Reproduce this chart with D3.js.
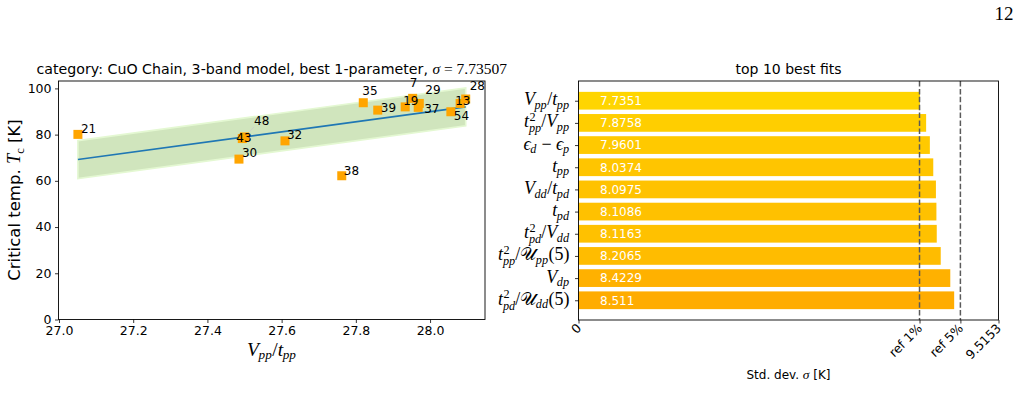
<!DOCTYPE html>
<html><head><meta charset="utf-8">
<script src="https://cdn.jsdelivr.net/npm/d3@7"></script>
<style>body{margin:0;background:#fff} svg{display:block} text{white-space:pre}</style>
</head><body>
<svg id="c" width="1020" height="419"></svg>
<script>
// ---------- scatter data ----------
const pointIds = ["21","43","48","30","32","38","35","39","19","7","29","37","54","13","28"];
const pointX   = [27.051,27.494,27.500,27.485,27.609,27.762,27.820,27.859,27.933,27.953,27.971,27.968,28.056,28.081,28.096];
const pointTc  = [80.1,78.3,79.0,69.4,77.3,62.2,93.8,90.6,92.0,95.7,93.5,91.8,89.9,93.5,95.4];
const fitX  = [27.051, 28.096];
const fitTc = [69.2, 92.0];
const bandHalfWidth = 8.2;
const scatterXTicks = [27.0,27.2,27.4,27.6,27.8,28.0];
const scatterYTicks = [0,20,40,60,80,100];
const scatterTitle = "category: CuO Chain, 3-band model, best 1-parameter, ";
const scatterSigma = "σ = 7.73507";

// ---------- bar data ----------
const fitLabels = ["V_{pp}/t_{pp}","t_{pp}^{2}/V_{pp}","ϵ_{d} − ϵ_{p}","t_{pp}","V_{dd}/t_{pd}","t_{pd}","t_{pd}^{2}/V_{dd}","t_{pp}^{2}/𝒰_{pp}(5)","V_{dp}","t_{pd}^{2}/𝒰_{dd}(5)"];
const fitSigma  = [7.7351,7.8758,7.9601,8.0374,8.0975,8.1086,8.1163,8.2065,8.4229,8.511];
const refValues = [7.726, 8.652];
const barXMax = 9.5153;
const barXTickLabels = ["0","ref 1%","ref 5%","9.5153"];

// label placement nudges (px) for the scatter annotations
const labelNudge = {"21":[3,-1],"43":[-6,3],"48":[9.5,-12],"30":[3,-2],"32":[2,-2],"38":[2,-1],"35":[-1,-8],"39":[3,2],"19":[-2,-2],"7":[-3,-11],"29":[6,-9],"37":[6,6],"54":[3,8],"13":[-5,2],"28":[4,-9]};

const sans = "'DejaVu Sans', sans-serif";
const mathFont = "'Liberation Serif', 'DejaVu Serif', serif";
const svg = d3.select("#c");

// ---------- tiny math renderer (one <text> per formula) ----------
function parseMath(s){
  const atoms=[]; let i=0;
  function readGroup(){
    if(s[i]==='{'){ const j=s.indexOf('}',i); const g=s.slice(i+1,j); i=j+1; return g; }
    const ch=String.fromCodePoint(s.codePointAt(i)); i+=ch.length; return ch;
  }
  while(i<s.length){
    const c=s[i];
    if(c==='_'){ i++; atoms[atoms.length-1].sub=readGroup(); }
    else if(c==='^'){ i++; atoms[atoms.length-1].sup=readGroup(); }
    else { const ch=String.fromCodePoint(s.codePointAt(i)); i+=ch.length; atoms.push({base:ch}); }
  }
  return atoms;
}
function drawMath(parent, s, size){
  const g=parent.append('g');
  const t=g.append('text').attr('font-family',mathFont).attr('fill','#000').attr('font-size',size);
  let x=0;
  function put(str,px,py,fs){
    const ts=t.append('tspan').attr('x',px).attr('y',py).attr('font-size',fs);
    for(const ch of str){
      ts.append('tspan').text(ch).attr('font-style', /[A-Za-z\u03B1-\u03C9\u03F5]/.test(ch)?'italic':'normal');
    }
    return ts.node().getComputedTextLength();
  }
  for(const a of parseMath(s)){
    x+=put(a.base,x,0,size);
    let ws=0;
    if(a.sup) ws=Math.max(ws, put(a.sup,x+0.5,-0.35*size,size*0.68)+0.5);
    if(a.sub) ws=Math.max(ws, put(a.sub,x-(a.sup?0:0.5),(a.sup?0.27:0.2)*size,size*0.68));
    x+=ws;
  }
  return {g, t, width:x};
}

// ================= LEFT: scatter =================
const xL = d3.scaleLinear().domain([26.9987, 28.148]).range([58.5, 485]);
const yL = d3.scaleLinear().domain([0, 103.2]).range([319.5, 81]);

const band = fitX.map((x,i)=>({x, y:fitTc[i]}));
svg.append('path').datum(band)
  .attr('d', d3.area().x(d=>xL(d.x)).y0(d=>yL(d.y-bandHalfWidth)).y1(d=>yL(d.y+bandHalfWidth)))
  .attr('fill','#d0e5bd').attr('stroke','#e4f8d2').attr('stroke-width',1.6);
svg.append('path').datum(band)
  .attr('d', d3.line().x(d=>xL(d.x)).y(d=>yL(d.y)))
  .attr('stroke','#1f77b4').attr('stroke-width',1.6).attr('fill','none');

// faint leader for 48
{
  const i=pointIds.indexOf("48");
  svg.append('line').attr('x1',xL(pointX[i])+2).attr('y1',yL(pointTc[i])-2)
    .attr('x2',xL(pointX[i])+labelNudge["48"][0]).attr('y2',yL(pointTc[i])+labelNudge["48"][1]+2)
    .attr('stroke','#ccc').attr('stroke-width',0.8);
}
svg.append('g').selectAll('rect').data(pointIds).join('rect')
  .attr('x',(d,i)=>xL(pointX[i])-4.5).attr('y',(d,i)=>yL(pointTc[i])-4.5)
  .attr('width',9).attr('height',9).attr('fill','#ffa500');
svg.append('g').selectAll('text').data(pointIds).join('text')
  .attr('x',(d,i)=>xL(pointX[i])+labelNudge[d][0])
  .attr('y',(d,i)=>yL(pointTc[i])+labelNudge[d][1])
  .attr('font-family',sans).attr('font-size',12).attr('fill','#000').text(d=>d);

// axes
const axXL = svg.append('g').attr('transform','translate(0,319.5)')
  .call(d3.axisBottom(xL).tickValues(scatterXTicks).tickSize(3.5).tickPadding(3.5).tickFormat(d3.format('.1f')));
const axYL = svg.append('g').attr('transform','translate(58.5,0)')
  .call(d3.axisLeft(yL).tickValues(scatterYTicks).tickSize(3.5).tickPadding(3.5).tickFormat(d3.format('d')));
[axXL,axYL].forEach(a=>{a.select('.domain').remove(); a.selectAll('text').attr('font-family',sans).attr('font-size',12.5).attr('fill','#000'); a.selectAll('line').attr('stroke','#000').attr('stroke-width',0.8);});
axYL.selectAll('text').attr('dy','0.3em');
svg.append('rect').attr('x',58.5).attr('y',81).attr('width',485-58.5).attr('height',319.5-81)
  .attr('fill','none').attr('stroke','#000').attr('stroke-width',0.9);

// title (single text element)
{
  const g=svg.append('g');
  const t=g.append('text').attr('x',0).attr('y',0).attr('font-family',sans).attr('font-size',14.2).attr('fill','#000');
  const s1=t.append('tspan').text(scatterTitle);
  const w1=s1.node().getComputedTextLength();
  const s2=t.append('tspan').attr('font-family',mathFont).attr('font-size',15.5);
  s2.append('tspan').attr('font-style','italic').text('σ');
  s2.append('tspan').text(' = 7.73507');
  const tw=w1+s2.node().getComputedTextLength();
  g.attr('transform',`translate(${(58.5+485)/2 - tw/2},74)`);
}
// x label
{
  const g=svg.append('g');
  const m=drawMath(g,"V_{pp}/t_{pp}",19.5);
  g.attr('transform',`translate(${(58.5+485)/2 - m.width/2},355.5)`);
}
// y label (single text element)
{
  const g=svg.append('g');
  const t=g.append('text').attr('font-family',sans).attr('font-size',16.5).attr('fill','#000');
  const a=t.append('tspan').text('Critical temp. ');
  const w1=a.node().getComputedTextLength();
  const T=t.append('tspan').attr('font-family',mathFont).attr('font-size',18.5).attr('font-style','italic').text('T');
  const w2=T.node().getComputedTextLength();
  const c=t.append('tspan').attr('font-family',mathFont).attr('font-size',12.6).attr('dy',4).text('c');
  const w3=c.node().getComputedTextLength();
  const k=t.append('tspan').attr('dy',-4).text(' [K]');
  const tw=w1+w2+w3+k.node().getComputedTextLength();
  g.attr('transform',`translate(20,${200+tw/2}) rotate(-90)`);
}

// ================= RIGHT: bars =================
const xR = d3.scaleLinear().domain([0, barXMax]).range([578.5, 998.5]);
const yR = d3.scaleLinear().domain([-0.89, 9.89]).range([81, 320]);
const barH = yR(0.4)-yR(-0.4);
const barColor = d3.scaleLinear().domain([d3.min(fitSigma), d3.max(fitSigma)]).range(['#ffd500','#ffac00']);

svg.append('g').selectAll('rect').data(fitSigma).join('rect')
  .attr('x',xR(0)).attr('y',(d,i)=>yR(i)-barH/2)
  .attr('width',d=>xR(d)-xR(0)).attr('height',barH).attr('fill',d=>barColor(d));
svg.append('g').selectAll('text').data(fitSigma).join('text')
  .attr('x',600).attr('y',(d,i)=>yR(i)+4.3)
  .attr('font-family',sans).attr('font-size',12).attr('fill','#fff').text(d=>String(d));
svg.append('g').selectAll('line').data(refValues).join('line')
  .attr('x1',d=>xR(d)).attr('x2',d=>xR(d)).attr('y1',81).attr('y2',320)
  .attr('stroke','#5a5a5a').attr('stroke-width',1.5).attr('stroke-dasharray','5.5,2.4');

const axYR = svg.append('g').attr('transform','translate(578.5,0)')
  .call(d3.axisLeft(yR).tickValues(d3.range(fitLabels.length)).tickSize(3.5).tickFormat(''));
const tickXVals=[0, refValues[0], refValues[1], barXMax];
const axXR = svg.append('g').attr('transform','translate(0,320)')
  .call(d3.axisBottom(xR).tickValues(tickXVals).tickSize(3.5).tickFormat((d,i)=>barXTickLabels[i]));
[axXR,axYR].forEach(a=>{a.select('.domain').remove(); a.selectAll('line').attr('stroke','#000').attr('stroke-width',0.8);});
axXR.selectAll('text').attr('font-family',sans).attr('font-size',12.5).attr('fill','#000')
  .attr('text-anchor','end').attr('dy',0).attr('y',0)
  .attr('transform','translate(3,9) rotate(-45)');
svg.append('rect').attr('x',578.5).attr('y',81).attr('width',998.5-578.5).attr('height',320-81)
  .attr('fill','none').attr('stroke','#000').attr('stroke-width',0.9);

fitLabels.forEach((lab,i)=>{
  const g=svg.append('g');
  const m=drawMath(g,lab,18);
  g.attr('transform',`translate(${569.5-m.width},${yR(i)+4.5})`);
});

svg.append('text').attr('x',788.5).attr('y',74).attr('text-anchor','middle')
  .attr('font-family',sans).attr('font-size',14).attr('fill','#000').text('top 10 best fits');
{
  const g=svg.append('g');
  const t=g.append('text').attr('font-family',sans).attr('font-size',12).attr('fill','#000');
  const a=t.append('tspan').text('Std. dev. ');
  const s=t.append('tspan').attr('font-family',mathFont).attr('font-size',13.5).attr('font-style','italic').text('σ');
  const b=t.append('tspan').text(' [K]');
  const tw=a.node().getComputedTextLength()+s.node().getComputedTextLength()+b.node().getComputedTextLength();
  g.attr('transform',`translate(${788.5-tw/2},378.5)`);
}

// page number
svg.append('text').attr('x',1013.5).attr('y',19.5).attr('text-anchor','end')
  .attr('font-family',"'Liberation Serif', serif").attr('font-size',19).attr('fill','#000').text('12');
</script>
</body></html>
